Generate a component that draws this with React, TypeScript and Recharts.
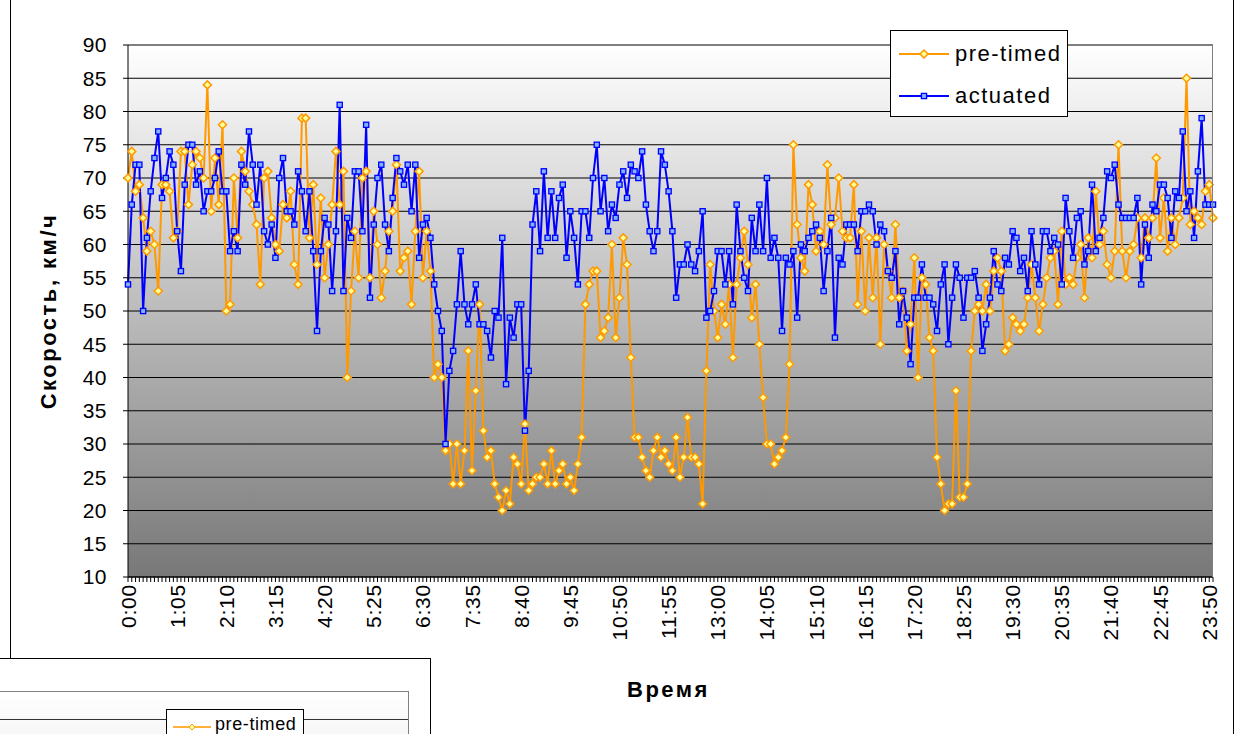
import React from 'react';
import { LineChart, Line, XAxis, YAxis, CartesianGrid, Legend, ReferenceLine } from 'recharts';

// 5-minute slots through the day
const times: string[] = [];
for (let h = 0; h < 24; h++) {
  for (let m = 0; m < 60; m += 5) times.push(`${h}:${m < 10 ? '0' + m : m}`);
}

const preTimed = [
  70, 74, 68, 69, 64, 59, 62, 60, 53, 69, 69, 68, 61, 62, 74, 74, 66, 72, 74, 73, 70, 84, 65, 73, 66, 78, 50, 51, 70,
  61, 74, 71, 68, 66, 63, 54, 70, 71, 64, 60, 59, 66, 64, 68, 57, 54, 79, 79, 61, 69, 57, 67, 55, 60, 66, 74, 66, 71,
  40, 53, 62, 55, 70, 71, 55, 65, 60, 52, 56, 62, 65, 72, 56, 58, 59, 51, 62, 71, 55, 62, 56, 40, 42, 40, 29, 30, 24,
  30, 24, 29, 44, 26, 38, 51, 32, 28, 29, 24, 22, 20, 23, 21, 28, 27, 24, 33, 23, 24, 25, 25, 27, 24, 29, 24, 26, 27,
  24, 25, 23, 27, 31, 51, 54, 56, 56, 46, 47, 49, 60, 46, 52, 61, 57, 43, 31, 31, 28, 26, 25, 29, 31, 28, 29, 27, 26, 31,
  25, 28, 34, 28, 28, 27, 21, 41, 57, 50, 46, 51, 48, 54, 43, 54, 58, 62, 57, 49, 54, 45, 37, 30, 30, 27, 28, 29, 31,
  42, 75, 63, 58, 56, 69, 66, 59, 62, 60, 72, 63, 64, 70, 62, 61, 61, 69, 51, 62, 50, 61, 52, 61, 45, 60, 56, 52, 63,
  52, 53, 44, 48, 58, 40, 55, 54, 46, 44, 28, 24, 20, 21, 21, 38, 22, 22, 24, 44, 50, 51, 50, 54, 50, 56, 58, 56, 44,
  45, 49, 48, 47, 48, 52, 57, 52, 47, 51, 55, 58, 59, 51, 62, 54, 55, 54, 58, 60, 52, 61, 58, 68, 60, 62, 57, 55, 59, 75,
  59, 55, 59, 60, 64, 58, 64, 61, 64, 73, 61, 67, 59, 64, 60, 64, 67, 85, 63, 65, 64, 63, 68, 69, 64,
];

const actuated = [
  54, 66, 72, 72, 50, 61, 68, 73, 77, 67, 70, 74, 72, 62, 56, 69, 75, 75, 69, 71, 65, 68, 68, 70, 74, 68, 68, 59, 62,
  59, 72, 69, 77, 72, 66, 72, 62, 60, 63, 58, 70, 73, 65, 65, 63, 71, 68, 62, 68, 59, 47, 59, 64, 63, 53, 62, 81, 53,
  64, 61, 71, 71, 62, 78, 52, 63, 70, 72, 63, 59, 67, 73, 71, 69, 72, 65, 72, 58, 63, 64, 61, 54, 50, 47, 30, 41, 44,
  51, 59, 51, 48, 51, 54, 48, 48, 47, 43, 50, 49, 61, 39, 49, 46, 51, 51, 32, 41, 63, 68, 59, 71, 61, 68, 61, 67, 69,
  58, 65, 61, 54, 65, 65, 61, 70, 75, 65, 70, 62, 66, 64, 69, 71, 67, 72, 71, 70, 74, 66, 62, 59, 62, 74, 72, 68, 62, 52,
  57, 57, 60, 57, 56, 59, 65, 49, 50, 53, 59, 59, 54, 59, 51, 66, 59, 55, 53, 64, 59, 66, 59, 70, 58, 61, 58, 47, 58,
  57, 59, 49, 60, 59, 61, 62, 63, 61, 53, 59, 64, 46, 58, 57, 63, 63, 63, 59, 65, 65, 66, 65, 60, 63, 62, 56, 55, 59, 48,
  53, 49, 42, 52, 52, 57, 52, 52, 51, 47, 54, 57, 45, 52, 57, 55, 49, 55, 55, 56, 52, 44, 48, 52, 59, 54, 53, 58,
  57, 62, 61, 56, 58, 53, 62, 57, 54, 62, 62, 59, 61, 60, 54, 67, 62, 58, 64, 65, 57, 59, 69, 59, 61, 64, 71, 70, 72, 66,
  64, 64, 64, 64, 67, 54, 63, 58, 66, 65, 69, 69, 67, 61, 68, 67, 77, 65, 68, 61, 71, 79, 66, 66, 66,
];

const yTicks = [10, 15, 20, 25, 30, 35, 40, 45, 50, 55, 60, 65, 70, 75, 80, 85, 90];
const labelEvery = 13;

const data = times.map((t, i) => ({ time: t, preTimed: preTimed[i], actuated: actuated[i] }));

const ORANGE = '#FF9900';
const BLUE = '#0000FF';
const FONT = '"Liberation Sans", Arial, sans-serif';

const Diamond = (props: any) => {
  const { cx, cy } = props;
  if (cx == null || cy == null) return null;
  return (
    <polygon
      points={`${cx},${cy - 4} ${cx + 4},${cy} ${cx},${cy + 4} ${cx - 4},${cy}`}
      fill="#FFFF99"
      stroke={ORANGE}
      strokeWidth={1.5}
    />
  );
};

const Square = (props: any) => {
  const { cx, cy } = props;
  if (cx == null || cy == null) return null;
  return <rect x={cx - 2.6} y={cy - 2.6} width={5.2} height={5.2} fill="#7FB2FF" stroke={BLUE} strokeWidth={1.3} />;
};

const TimeTick = (props: any) => {
  const { x, y, payload } = props;
  const idx = payload?.index ?? props.index;
  if (idx % labelEvery !== 0) return null;
  return (
    <text
      x={x}
      y={y}
      transform={`rotate(-90, ${x}, ${y})`}
      textAnchor="end"
      dominantBaseline="central"
      fontFamily={FONT}
      fontSize={21}
      letterSpacing={0.8}
      fill="#000"
    >
      {payload.value}
    </text>
  );
};

const renderLegend = () => (
  <div
    style={{
      width: 176,
      height: 85,
      background: '#fff',
      border: '1px solid #000',
      fontFamily: FONT,
      fontSize: 22,
      letterSpacing: 1.5,
      boxSizing: 'content-box',
    }}
  >
    {[
      { name: 'pre-timed', color: ORANGE, kind: 'diamond' },
      { name: 'actuated', color: BLUE, kind: 'square' },
    ].map((e) => (
      <div key={e.name} style={{ display: 'flex', alignItems: 'center', height: 42, marginTop: e.kind === 'diamond' ? 2 : 0 }}>
        <svg width={58} height={20} style={{ marginLeft: 6 }}>
          <line x1={2} y1={10} x2={52} y2={10} stroke={e.color} strokeWidth={2} />
          {e.kind === 'diamond' ? <Diamond cx={27} cy={10} /> : <Square cx={27} cy={10} />}
        </svg>
        <span style={{ color: '#000' }}>{e.name}</span>
      </div>
    ))}
  </div>
);

export default function App() {
  return (
    <div style={{ position: 'absolute', left: 0, top: 0, width: 1240, height: 734, background: '#fff', overflow: 'hidden' }}>
      {/* frame of the main chart object */}
      <div style={{ position: 'absolute', left: 10, top: -2, width: 1222, height: 760, border: '1px solid #000' }} />
      <LineChart
        width={1240}
        height={734}
        data={data}
        margin={{ top: 45, right: 27, bottom: 0, left: 10 }}
        style={{ position: 'absolute', left: 0, top: 0 }}
      >
        <defs>
          <linearGradient id="plotBg" x1="0" y1="0" x2="0" y2="1">
            <stop offset="0%" stopColor="#FFFFFF" />
            <stop offset="100%" stopColor="#787878" />
          </linearGradient>
        </defs>
        <CartesianGrid fill="url(#plotBg)" stroke="#000" vertical={false} />
        <XAxis
          dataKey="time"
          interval={0}
          tick={<TimeTick />}
          tickLine={{ stroke: '#000' }}
          tickSize={5}
          axisLine={{ stroke: '#000' }}
          height={157}
          label={(p: any) => {
            const vb = p.viewBox || {};
            return (
              <text
                x={vb.x + vb.width / 2 - 2}
                y={vb.y + 120}
                textAnchor="middle"
                fontFamily={FONT}
                fontWeight="bold"
                fontSize={22}
                letterSpacing={2.5}
                fill="#000"
              >
                Время
              </text>
            );
          }}
        />
        <YAxis
          domain={[10, 90]}
          ticks={yTicks}
          interval={0}
          width={118}
          tick={{ fontFamily: FONT, fontSize: 21, fill: '#000', letterSpacing: 0.5 }}
          tickLine={{ stroke: '#000' }}
          tickSize={5}
          tickMargin={16}
          axisLine={{ stroke: '#000' }}
          label={(p: any) => {
            const vb = p.viewBox || {};
            const cx = vb.x + 38;
            const cy = vb.y + vb.height / 2;
            return (
              <text
                x={cx}
                y={cy}
                transform={`rotate(-90, ${cx}, ${cy})`}
                textAnchor="middle"
                dominantBaseline="central"
                fontFamily={FONT}
                fontWeight="bold"
                fontSize={22}
                letterSpacing={2.5}
                fill="#000"
              >
                Скорость, км/ч
              </text>
            );
          }}
        />
        <ReferenceLine y={90} stroke="#808080" />
        <Legend
          layout="vertical"
          align="center"
          verticalAlign="middle"
          content={renderLegend}
          wrapperStyle={{ left: 890, top: 30, width: 178, height: 87 }}
        />
        <Line
          type="linear"
          dataKey="preTimed"
          name="pre-timed"
          stroke={ORANGE}
          strokeWidth={2}
          dot={<Diamond />}
          activeDot={false}
          isAnimationActive={false}
        />
        <Line
          type="linear"
          dataKey="actuated"
          name="actuated"
          stroke={BLUE}
          strokeWidth={2}
          dot={<Square />}
          activeDot={false}
          isAnimationActive={false}
        />
      </LineChart>
      {/* right edge of plot area */}
      <div style={{ position: 'absolute', left: 1212, top: 45, width: 1, height: 532, background: '#808080' }} />

      {/* a second chart object overlapping at the bottom left */}
      <div
        style={{
          position: 'absolute',
          left: -2,
          top: 658,
          width: 432,
          height: 90,
          background: '#fff',
          borderTop: '1px solid #000',
          borderRight: '1px solid #000',
        }}
      >
        <div
          style={{
            position: 'absolute',
            left: 0,
            top: 32,
            width: 410,
            height: 60,
            borderTop: '1px solid #808080',
            borderRight: '1px solid #808080',
            background: 'linear-gradient(#ffffff, #f3f3f3)',
          }}
        >
          <div style={{ position: 'absolute', left: 0, top: 27, width: 410, height: 1, background: '#333' }} />
          <div
            style={{
              position: 'absolute',
              left: 168,
              top: 17,
              width: 136,
              height: 40,
              background: '#fff',
              border: '1px solid #000',
              fontFamily: FONT,
              fontSize: 18,
              letterSpacing: 0.6,
              display: 'flex',
              alignItems: 'flex-start',
            }}
          >
            <svg width={48} height={20} style={{ marginTop: 7 }}>
              <line x1={6} y1={10} x2={44} y2={10} stroke={ORANGE} strokeWidth={1.5} />
              <polygon points="25,7 28,10 25,13 22,10" fill="#FFFF99" stroke={ORANGE} strokeWidth={1} />
            </svg>
            <span style={{ marginTop: 4 }}>pre-timed</span>
          </div>
        </div>
      </div>
    </div>
  );
}
